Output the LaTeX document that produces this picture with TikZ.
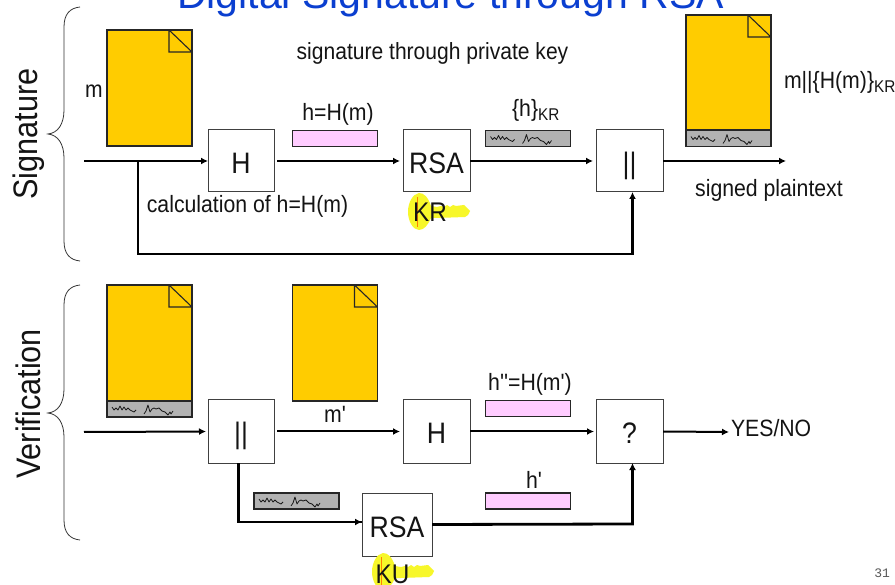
\documentclass[tikz,border=0pt]{standalone}
\usepackage{fontspec}
\setmainfont{Liberation Sans}
\newfontfamily\narrowfont[FakeStretch=0.9]{Liberation Sans}
\newfontfamily\pagefont{Liberation Mono}
\definecolor{docyellow}{HTML}{FFCC00}
\definecolor{hashpink}{HTML}{FFCCFF}
\definecolor{siggray}{HTML}{B2B2B2}
\definecolor{keyyellow}{HTML}{F7F72A}
\definecolor{titleblue}{HTML}{0B3FD0}
\usetikzlibrary{arrows.meta}
\tikzset{
  x=1pt,y=-1pt,
  every node/.style={inner sep=0pt,outer sep=0pt},
  lbl/.style={font=\narrowfont\fontsize{23.4}{26}\selectfont,text=black!92},
  small/.style={font=\narrowfont\fontsize{23.6}{26}\selectfont,text=black!92},
  keytext/.style={font=\narrowfont\fontsize{27}{30}\selectfont,text=black!92},
  side/.style={font=\narrowfont\fontsize{34}{36}\selectfont,rotate=90,text=black!92},
  procbox/.style={draw=black!75,line width=1pt,fill=white,font=\narrowfont\fontsize{29.6}{32}\selectfont,text=black!92,text height=25pt,text depth=0pt},
  bar/.style={draw=black!85,line width=1.1pt,minimum width=85pt,minimum height=16pt},
  doc/.style={draw=black!85,line width=1.1pt,fill=docyellow,minimum width=85pt},
  flow/.style={line width=2pt,-{Latex[length=7pt,width=7pt]}},
  thickflow/.style={line width=2.8pt,-{Latex[length=7pt,width=7pt]}},
  brace/.style={draw=black!80,line width=.8pt},
}
\newcommand{\fold}[1]{%
  \draw[line width=1.1pt,black!85] ([xshift=-23pt]#1.north east) |- ([yshift=-22pt]#1.north east)
     ([xshift=-23pt]#1.north east) -- ([yshift=-22pt]#1.north east);}
\newcommand{\scribble}[1]{%
  \draw[line width=.8pt,black!90,line join=round] ([shift={(5,6)}]#1.north west)
   -- ++(2,3) -- ++(2,-2) -- ++(2,2) -- ++(2,-4) -- ++(2,4) -- ++(2,-3) -- ++(2,3)
   -- ++(2,-2) -- ++(2,2) -- ++(2,1) -- ++(2,1) -- ++(2,-2)
   ++(8,4) -- ++(2,-3) -- ++(2,-6) -- ++(2,7) -- ++(2,-3) -- ++(2,-1) -- ++(2,1)
   -- ++(3,-1) -- ++(3,3) -- ++(3,1) -- ++(3,3) -- ++(2,-3) -- ++(1,2) -- ++(2,-3);}
\newcommand{\keyblob}[2]{%
  \begin{scope}[shift={(#1,#2)}]
  \fill[keyyellow] (-13,0) .. controls (-13,-10) and (-8,-18) .. (-2,-19)
     .. controls (3,-19) and (7,-15) .. (10,-6) -- (16,-5) -- (20,-6) -- (23,-5) -- (26,-7)
     -- (29,-5) -- (32,-7) -- (35,-6) -- (43,-7) -- (47,-3) -- (49,-1) -- (47,3) -- (44,5)
     -- (16,6) -- (10,6) .. controls (7,13) and (3,18) .. (-2,18)
     .. controls (-8,18) and (-13,9) .. (-13,0) -- cycle;
  \draw[orange,line width=.7pt] (-4,-15) -- (-4,15);
  \end{scope}}
\begin{document}
\begin{tikzpicture}
\useasboundingbox (0,0) rectangle (895,585);
\clip (0,0) rectangle (895,585);
\fill[white] (0,0) rectangle (895,585);

% title
\node[anchor=base,text=titleblue,font=\fontsize{41}{44}\selectfont] (title) at (450.5,9) {Digital Signature through RSA};

% braces
\path[brace] (80,7) .. controls (70,8) and (64,14) .. (64,27) -- (64,110)
  .. controls (64,124) and (58,133) .. (48,134)
  .. controls (58,135) and (64,144) .. (64,158) -- (64,241)
  .. controls (64,254) and (70,260) .. (80,261);
\path[brace] (80,285) .. controls (70,286) and (64,292) .. (64,305) -- (64,389)
  .. controls (64,403) and (58,412) .. (48,413)
  .. controls (58,414) and (64,423) .. (64,437) -- (64,520)
  .. controls (64,533) and (70,539) .. (80,540);
\node[side] (sigside) at (28.5,134) {Signature};
\node[side] (verside) at (28.5,404) {Verification};

% --- signature row ---
\node[doc,anchor=north west,minimum height=116pt] (doca) at (107,30) {};
\fold{doca}
\node[lbl,anchor=base] (mlabel) at (94,98) {m};

\node[procbox,minimum width=66pt,minimum height=62pt] (hbox) at (241,161) {H};
\node[procbox,minimum width=67pt,minimum height=62pt] (rsaa) at (436.5,161) {RSA};
\node[procbox,minimum width=67pt,minimum height=62pt] (cata) at (629.5,161) {||};

\node[bar,fill=hashpink,anchor=north west] (hbar) at (292.5,130.5) {};
\node[small,anchor=base] (hlabel) at (338,120.5) {h=H(m)};
\node[bar,fill=siggray,anchor=north west] (sbar) at (485.5,130.5) {};
\scribble{sbar}
\node[small,anchor=base] (slabel) at (536,116.5) {\{h\}$_{\hbox{\narrowfont\fontsize{17}{17}\selectfont KR}}$};
\node[lbl,anchor=base] (sigtext) at (432.5,60) {signature through private key};
\node[small,anchor=base] (calctext) at (247.5,213) {calculation of h=H(m)};
\keyblob{421}{212}
\node[keytext,anchor=base] (kr) at (430,222) {KR};

\node[doc,anchor=north west,minimum height=115pt] (docb) at (686,15) {};
\fold{docb}
\node[bar,fill=siggray,anchor=north west] (sbarb) at (686,130.5) {};
\scribble{sbarb}
\node[small,anchor=base west] (mklabel) at (784,89) {m||\{H(m)\}$_{\hbox{\narrowfont\fontsize{17}{17}\selectfont KR}}$};
\node[small,anchor=base] (signed) at (769,197) {signed plaintext};

\coordinate (inA) at (84,161);
\coordinate (outA) at (786,161);
\coordinate (branchA) at (138,161);
\coordinate (lowA) at (138,254);
\coordinate (lowAr) at (632.5,254);
\draw[flow] (inA) -- (hbox.west);
\draw[flow,shorten <=3pt,shorten >=3pt] (hbox.east) -- (rsaa.west);
\draw[flow,shorten >=3pt] (rsaa.east) -- (cata.west);
\draw[flow] (cata.east) -- (outA);
\draw[thickflow] (branchA) -- (lowA) -- (lowAr) -- (lowAr |- cata.south);

% --- verification row ---
\node[doc,anchor=north west,minimum height=116pt] (docc) at (107,285) {};
\fold{docc}
\node[bar,fill=siggray,anchor=north west] (sbarc) at (107,401) {};
\scribble{sbarc}
\node[doc,anchor=north west,minimum height=116pt] (docd) at (292.5,285) {};
\fold{docd}
\node[small,anchor=base] (mprime) at (335,423) {m'};

\node[procbox,minimum width=66pt,minimum height=63pt] (catb) at (241,431.5) {||};
\node[procbox,minimum width=67pt,minimum height=63pt] (hboxb) at (436.5,431.5) {H};
\node[procbox,minimum width=67pt,minimum height=63pt] (qbox) at (629.5,431.5) {?};
\node[procbox,minimum width=70pt,minimum height=63pt] (rsab) at (397,524.5) {RSA};

\node[bar,fill=hashpink,anchor=north west] (hbarb) at (485.5,400.5) {};
\node[small,anchor=base] (hpp) at (530,391) {h''=H(m')};
\node[bar,fill=hashpink,anchor=north west] (hbarc) at (485.5,493) {};
\node[small,anchor=base] (hp) at (534,488) {h'};
\node[bar,fill=siggray,anchor=north west] (sbard) at (254,493) {};
\scribble{sbard}
\keyblob{385}{572}
\node[keytext,anchor=base] (ku) at (392.5,583) {KU};
\node[small,anchor=base west] (yesno) at (731,436) {YES/NO};
\node[anchor=base east,font=\pagefont\fontsize{13}{15}\selectfont,text=black!65] (pagenum) at (890,577) {31};

\coordinate (inB) at (84,432);
\coordinate (outB) at (729,432);
\coordinate (downB) at (238.5,522);
\coordinate (riseB) at (632.5,524);
\draw[flow,shorten >=2pt] (inB) -- (catb.west);
\draw[flow,shorten <=3pt,shorten >=3pt] (catb.east) -- (hboxb.west);
\draw[flow,shorten >=2pt] (hboxb.east) -- (qbox.west);
\draw[flow] (qbox.east) -- (outB);
\draw[line width=2.8pt] (downB |- catb.south) -- (downB) -- (rsab.west |- downB);
\draw[flow] ([xshift=-10pt]rsab.west |- downB) -- (rsab.west |- downB);
\draw[thickflow] (rsab.east) -- (riseB) -- (riseB |- qbox.south);
\end{tikzpicture}
\end{document}
